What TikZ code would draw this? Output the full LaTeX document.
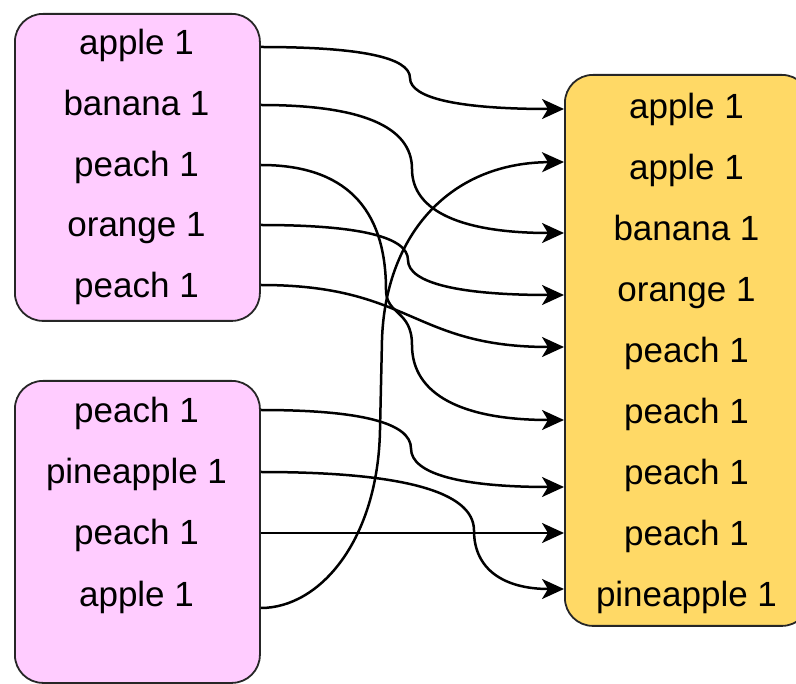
\documentclass[tikz,border=0pt]{standalone}
\usepackage{fontspec}
\setmainfont{Liberation Sans}
\usetikzlibrary{arrows.meta}
\definecolor{pinkfill}{HTML}{FFCCFF}
\definecolor{yellowfill}{HTML}{FFD966}
\definecolor{boxline}{HTML}{262626}

\begin{document}
\begin{tikzpicture}[x=1pt,y=-1pt,
  box/.style={draw=boxline, line width=1.8pt, rounded corners=28pt, inner sep=0pt, anchor=north west},
  row/.style={anchor=base, inner sep=0pt, font=\fontsize{35}{42}\selectfont},
  link/.style={draw=black, line width=2.5pt, -{Stealth[length=22pt,width=20pt,inset=6pt]}}]

\useasboundingbox (0,0) rectangle (796,684);
\clip (0,0) rectangle (796,684);

% the three record boxes
\node[box, fill=pinkfill,   minimum width=245pt, minimum height=307pt] (mapA) at (14,13) {};
\node[box, fill=pinkfill,   minimum width=245pt, minimum height=302pt] (mapB) at (14,380) {};
\node[box, fill=yellowfill, minimum width=245pt, minimum height=551pt] (sorted) at (564,74) {};

% rows of the first map output
\node[row] (a1) at (136.5,55)  {apple 1};
\node[row] (a2) at (136.5,116) {banana 1};
\node[row] (a3) at (136.5,177) {peach 1};
\node[row] (a4) at (136.5,237) {orange 1};
\node[row] (a5) at (136.5,298) {peach 1};

% rows of the second map output
\node[row] (b1) at (136.5,423) {peach 1};
\node[row] (b2) at (136.5,484) {pineapple 1};
\node[row] (b3) at (136.5,545) {peach 1};
\node[row] (b4) at (136.5,606) {apple 1};

% rows of the sorted output
\node[row] (s1) at (686.5,119) {apple 1};
\node[row] (s2) at (686.5,180) {apple 1};
\node[row] (s3) at (686.5,241) {banana 1};
\node[row] (s4) at (686.5,302) {orange 1};
\node[row] (s5) at (686.5,363) {peach 1};
\node[row] (s6) at (686.5,424) {peach 1};
\node[row] (s7) at (686.5,485) {peach 1};
\node[row] (s8) at (686.5,546) {peach 1};
\node[row] (s9) at (686.5,607) {pineapple 1};

% ports on the box borders
\coordinate (pa1) at (mapA.east |- 0,47);
\coordinate (pa2) at (mapA.east |- 0,105);
\coordinate (pa3) at (mapA.east |- 0,165);
\coordinate (pa4) at (mapA.east |- 0,225);
\coordinate (pa5) at (mapA.east |- 0,285);
\coordinate (pb1) at (mapB.east |- 0,410);
\coordinate (pb2) at (mapB.east |- 0,472);
\coordinate (pb3) at (mapB.east |- 0,533);
\coordinate (pb4) at (mapB.east |- 0,608);
\coordinate (ps1) at (sorted.west |- 0,109);
\coordinate (ps2) at (sorted.west |- 0,162);
\coordinate (ps3) at (sorted.west |- 0,233);
\coordinate (ps4) at (sorted.west |- 0,295);
\coordinate (ps5) at (sorted.west |- 0,347);
\coordinate (ps6) at (sorted.west |- 0,420);
\coordinate (ps7) at (sorted.west |- 0,487);
\coordinate (ps8) at (sorted.west |- 0,533);
\coordinate (ps9) at (sorted.west |- 0,589);

% shuffle connectors
\draw[link] (pa1) .. controls (359.7,47) and (410,57.3) .. (410,78)
                  .. controls (410,98.7) and (461.3,109) .. (ps1);
\draw[link] (pa2) .. controls (361,105) and (412,126.3) .. (412,169)
                  .. controls (412,211.7) and (462.7,233) .. (ps3);
\draw[link] (pa3) .. controls (343.7,165) and (386,206.7) .. (386,290)
                  .. controls (386,315) and (412,310) .. (412,345)
                  .. controls (412,395) and (462.7,420) .. (ps6);
\draw[link] (pa4) .. controls (358.3,225) and (408,236.7) .. (408,260)
                  .. controls (408,283.3) and (460,295) .. (ps4);
\draw[link] (pa5) .. controls (412,285) and (412,347) .. (ps5);
\draw[link] (pb1) .. controls (360.3,410) and (411,422.8) .. (411,448.5)
                  .. controls (411,474.2) and (462,487) .. (ps7);
\draw[link] (pb2) .. controls (402.3,472) and (474,491.5) .. (474,530.5)
                  .. controls (474,569.5) and (504,589) .. (ps9);
\draw[link] (pb3) -- (ps8);
\draw[link] (pb4) .. controls (320,608) and (378,540) .. (380,430)
                  -- (382,340)
                  .. controls (385,240) and (445,163) .. (ps2);
\end{tikzpicture}
\end{document}
